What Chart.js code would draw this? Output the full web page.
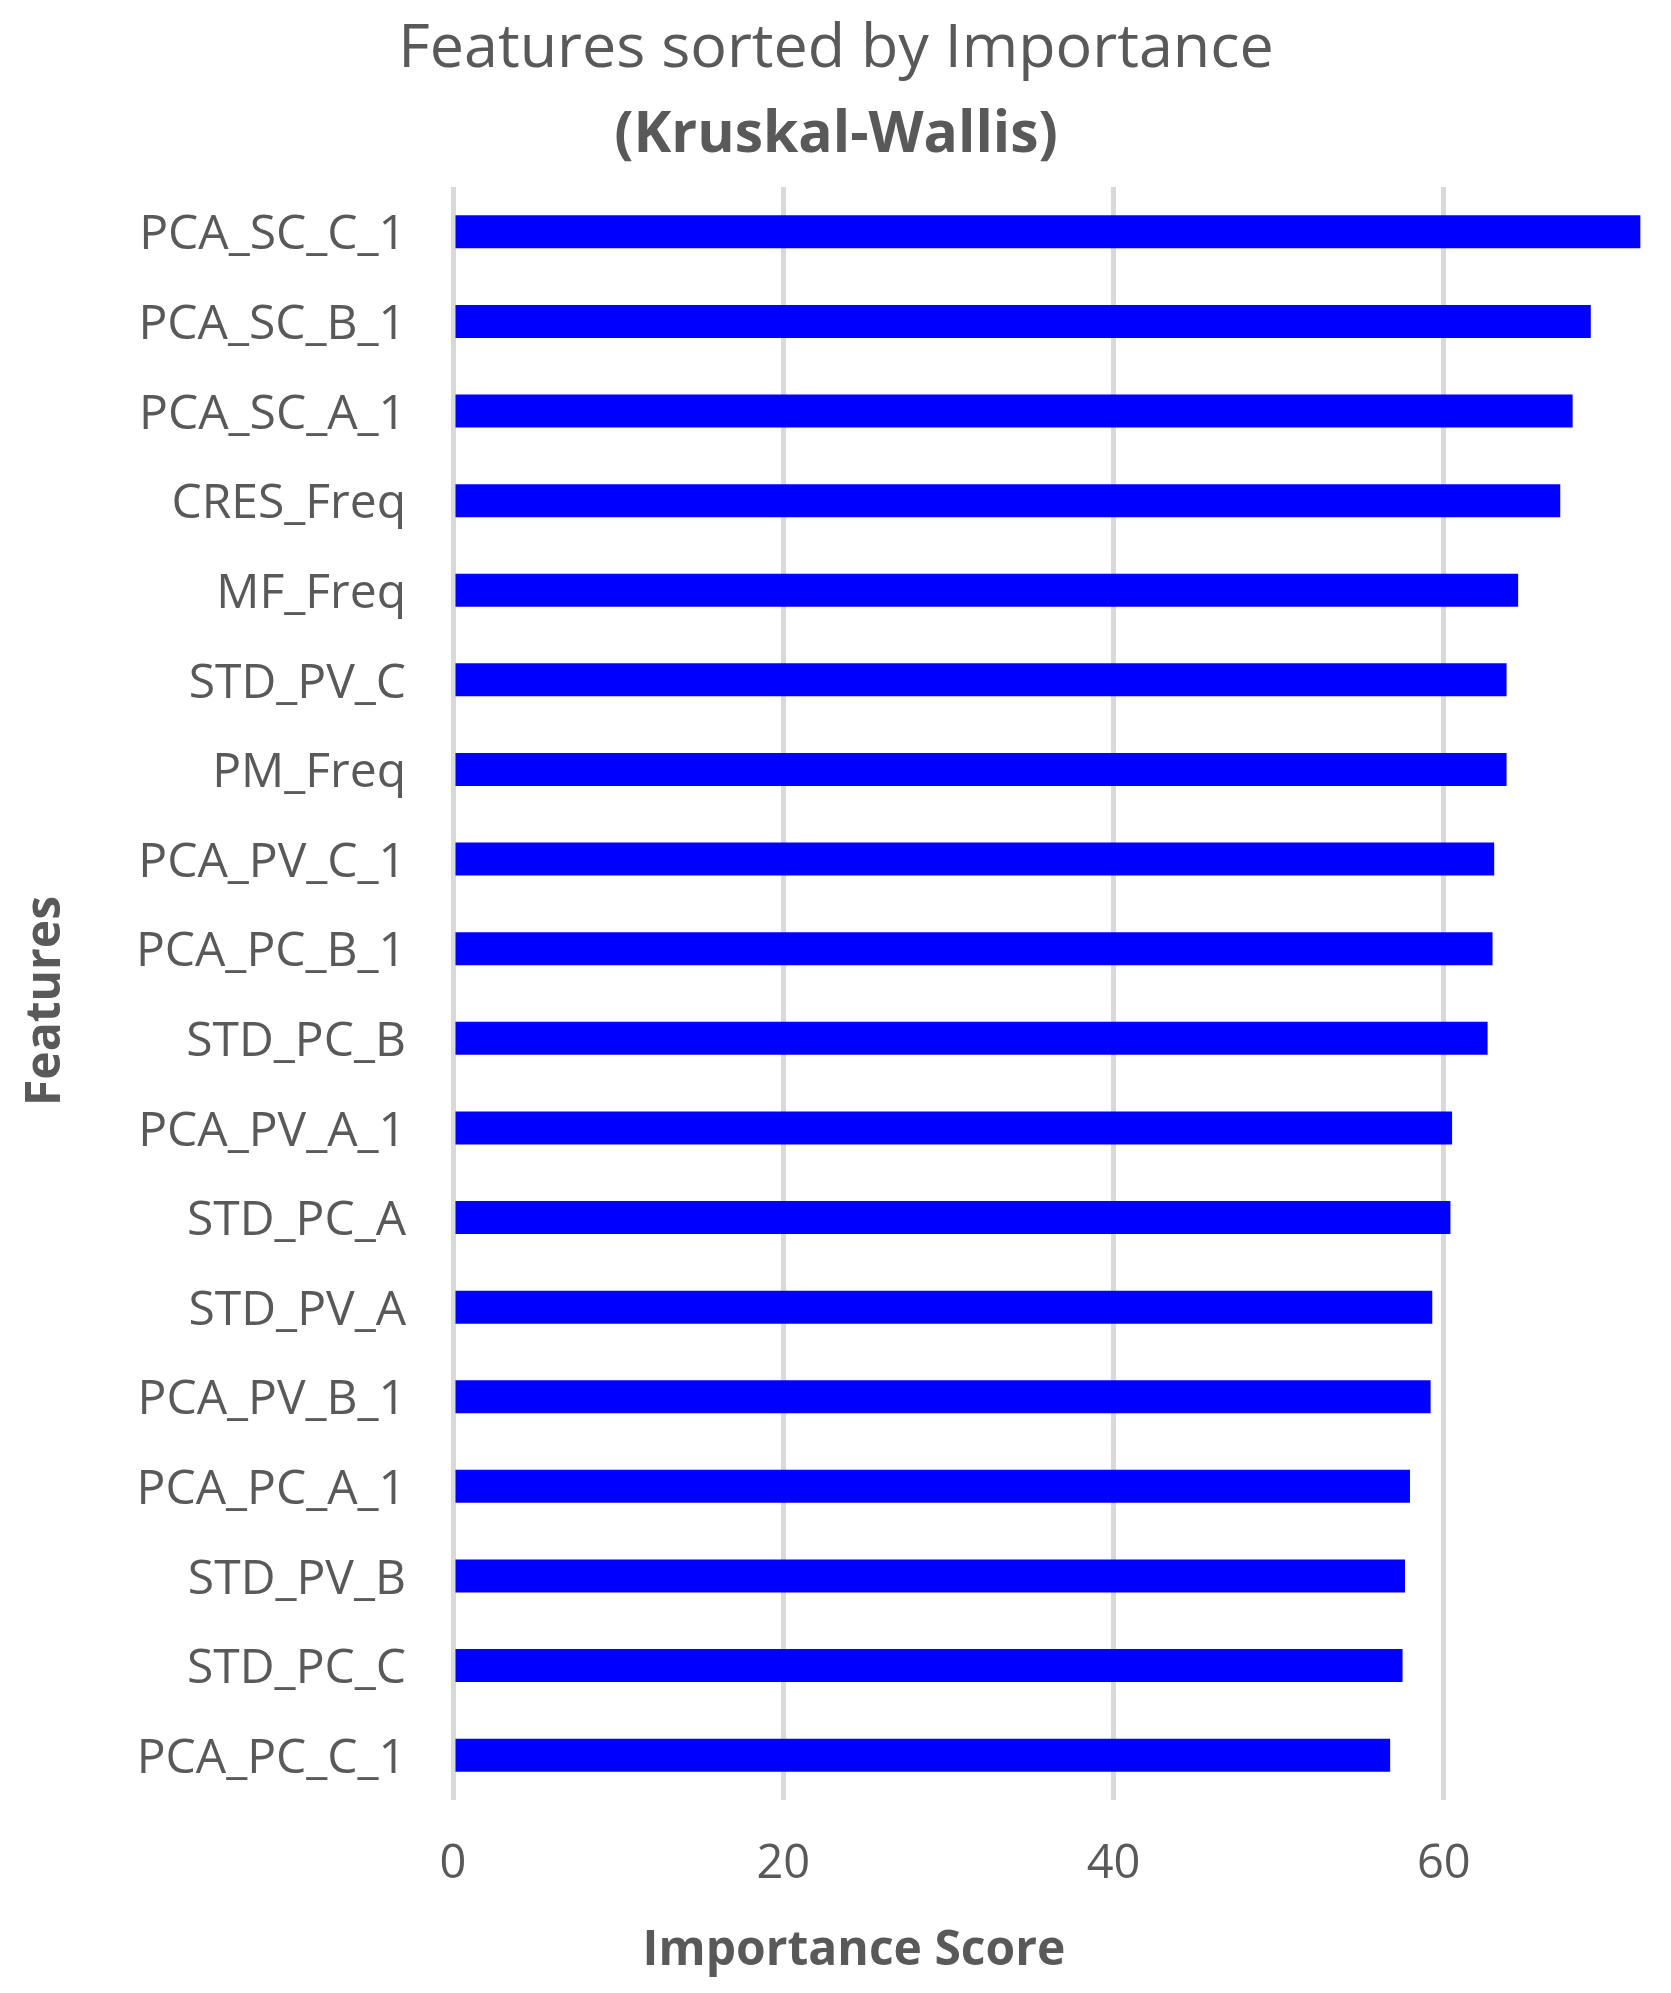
<!DOCTYPE html>
<html>
<head>
<meta charset="utf-8">
<script src="https://cdn.jsdelivr.net/npm/chart.js"></script>
<style>
  html, body { margin: 0; padding: 0; background: #ffffff; }
  #wrap { width: 1671px; height: 1993px; }
</style>
</head>
<body>
<div id="wrap"><canvas id="featChart"></canvas></div>
<script>
// values
const features = [
  'PCA_SC_C_1', 'PCA_SC_B_1', 'PCA_SC_A_1', 'CRES_Freq', 'MF_Freq', 'STD_PV_C',
  'PM_Freq', 'PCA_PV_C_1', 'PCA_PC_B_1', 'STD_PC_B', 'PCA_PV_A_1', 'STD_PC_A',
  'STD_PV_A', 'PCA_PV_B_1', 'PCA_PC_A_1', 'STD_PV_B', 'STD_PC_C', 'PCA_PC_C_1'
];
const scores = [
  71.9, 68.9, 67.8, 67.05, 64.5, 63.8,
  63.8, 63.05, 62.95, 62.65, 60.5, 60.4,
  59.3, 59.2, 57.95, 57.65, 57.5, 56.75
];
const xTicks = [0, 20, 40, 60];
const titleText = 'Features sorted by Importance';
const subtitleText = '(Kruskal-Wallis)';
const xTitle = 'Importance Score';
const yTitle = 'Features';

const textColor = '#595959';
const fontFamily = '"Open Sans", "DejaVu Sans", sans-serif';

// titles are drawn by hand so they sit where the original has them
const chartText = {
  id: 'chartText',
  afterDraw(chart) {
    const c = chart.ctx;
    c.save();
    c.fillStyle = textColor;
    c.textAlign = 'center';
    c.textBaseline = 'alphabetic';
    c.font = '61px ' + fontFamily;
    c.fillText(titleText, 836, 67);
    c.font = 'bold 57px ' + fontFamily;
    c.fillText(subtitleText, 836, 152);
    c.font = 'bold 48px ' + fontFamily;
    c.fillText(xTitle, 854, 1965);
    c.translate(60, 1001);
    c.rotate(-Math.PI / 2);
    c.fillText(yTitle, 0, 0);
    c.restore();
  }
};

document.addEventListener('DOMContentLoaded', function () {
  const ctx = document.getElementById('featChart').getContext('2d');

  const config = {
    type: 'bar',
    data: {
      labels: features,
      datasets: [{
        label: 'Importance Score',
        data: scores,
        backgroundColor: '#0000ff',
        borderWidth: 0,
        categoryPercentage: 1,
        barPercentage: 0.368
      }]
    },
    options: {
      indexAxis: 'y',
      responsive: true,
      maintainAspectRatio: false,
      animation: false,
      layout: {
        padding: { top: 187, right: 29, bottom: 0, left: 0 }
      },
      plugins: {
        legend: { display: false },
        tooltip: { enabled: false }
      },
      scales: {
        x: {
          min: 0,
          max: 72,
          afterBuildTicks: s => { s.ticks = xTicks.map(v => ({ value: v })); },
          afterFit: s => { s.height = 193; },
          grid: { color: '#d9d9d9', lineWidth: 5, drawTicks: false },
          border: { display: false },
          ticks: {
            padding: 36,
            color: textColor,
            font: { family: fontFamily, size: 47 }
          }
        },
        y: {
          afterFit: s => { s.width = 453; },
          grid: { display: false, drawTicks: false },
          border: { display: false },
          ticks: {
            padding: 47,
            labelOffset: 4,
            color: textColor,
            font: { family: fontFamily, size: 48 }
          }
        }
      }
    },
    plugins: [chartText]
  };

  new Chart(ctx, config);
});
</script>
</body>
</html>
